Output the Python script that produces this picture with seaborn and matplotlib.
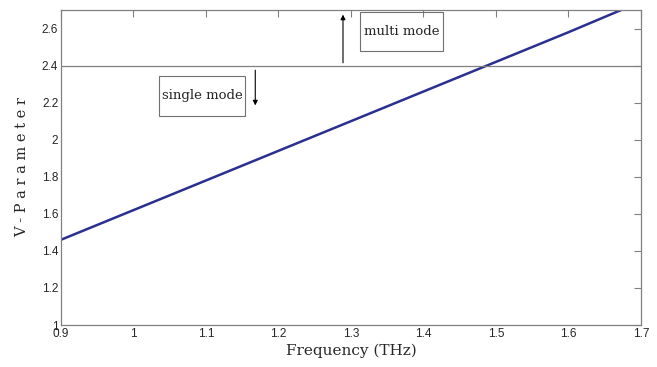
import matplotlib
matplotlib.use("Agg")
import matplotlib.pyplot as plt
import seaborn as sns
import pandas as pd
from matplotlib.patches import Rectangle

freq = [0.9, 1.0, 1.1, 1.2, 1.3, 1.4, 1.5, 1.6, 1.7]
vparam = [1.46, 1.62, 1.78, 1.94, 2.10, 2.26, 2.42, 2.58, 2.745]
cutoff = 2.4
xticks = [0.9, 1.0, 1.1, 1.2, 1.3, 1.4, 1.5, 1.6, 1.7]
xticklabels = ["0.9", "1", "1.1", "1.2", "1.3", "1.4", "1.5", "1.6", "1.7"]
yticks = [1.0, 1.2, 1.4, 1.6, 1.8, 2.0, 2.2, 2.4, 2.6]
yticklabels = ["1", "1.2", "1.4", "1.6", "1.8", "2", "2.2", "2.4", "2.6"]

sns.set_style("white")
plt.rcParams["font.family"] = ["Liberation Sans", "DejaVu Sans"]

df = pd.DataFrame({"Frequency": freq, "V": vparam})

fig = plt.figure(figsize=(6.57, 3.67), dpi=100)
ax = fig.add_axes([0.0928, 0.1144, 0.8828, 0.8584])
sns.lineplot(data=df, x="Frequency", y="V", ax=ax, color="#2b2f8f", linewidth=1.8)
ax.axhline(cutoff, color="#808080", linewidth=0.9)

ax.set_xlim(0.9, 1.7)
ax.set_ylim(1.0, 2.7)
ax.set_xticks(xticks)
ax.set_xticklabels(xticklabels)
ax.set_yticks(yticks)
ax.set_yticklabels(yticklabels)
ax.tick_params(direction="in", length=5, width=0.8, color="#808080",
               labelsize=8.5, top=True, right=True, pad=2)
for s in ax.spines.values():
    s.set_color("#808080")
    s.set_linewidth(0.9)

serif = ["DejaVu Serif"]
ax.set_xlabel("Frequency (THz)", family=serif, fontsize=11, labelpad=3)
ax.set_ylabel("V - P a r a m e t e r", family=serif, fontsize=10.5,
              fontweight="medium", labelpad=9)

# text boxes
ax.add_patch(Rectangle((1.035, 2.128), 0.119, 0.216, fill=False,
                       edgecolor="#707070", linewidth=0.8))
ax.text(1.0945, 2.236, "single mode", family=serif, fontsize=9.5,
        ha="center", va="center")
ax.add_patch(Rectangle((1.312, 2.478), 0.115, 0.212, fill=False,
                       edgecolor="#707070", linewidth=0.8))
ax.text(1.3695, 2.584, "multi mode", family=serif, fontsize=9.5,
        ha="center", va="center")

ax.annotate("", xy=(1.168, 2.17), xytext=(1.168, 2.39),
            arrowprops=dict(arrowstyle="-|>", color="black", lw=0.8,
                            mutation_scale=7))
ax.annotate("", xy=(1.289, 2.69), xytext=(1.289, 2.4),
            arrowprops=dict(arrowstyle="-|>", color="black", lw=0.8,
                            mutation_scale=7))

fig.savefig("out.png", dpi=100)
